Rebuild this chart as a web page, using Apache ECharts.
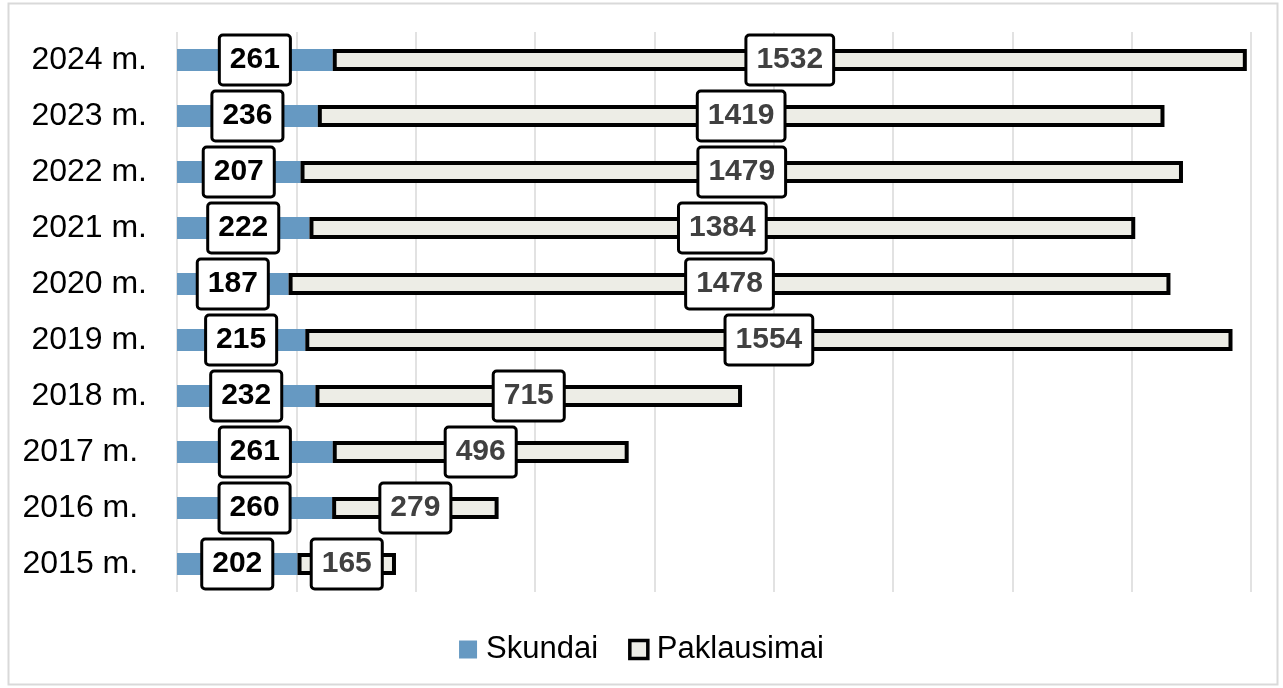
<!DOCTYPE html>
<html lang="lt">
	<head>
		<meta charset="UTF-8" />
		<title>Skundai ir paklausimai</title>
		<script src="https://cdn.jsdelivr.net/npm/echarts@6/dist/echarts.min.js"></script>
		<style>
			html, body { margin: 0; padding: 0; background: #fff; }
			#main { width: 1283px; height: 688px; }
		</style>
	</head>
	<body>
		<div id="main"></div>
		<script>
			// metai (apačioje 2015, viršuje 2024)
			var years = ['2015 m. ', '2016 m. ', '2017 m. ', '2018 m.', '2019 m.', '2020 m.', '2021 m.', '2022 m.', '2023 m.', '2024 m.'];
			var skundai = [202, 260, 261, 232, 215, 187, 222, 207, 236, 261];
			var paklausimai = [165, 279, 496, 715, 1554, 1478, 1384, 1479, 1419, 1532];

			var font = '"Liberation Sans", Arial, sans-serif';

			var myChart = echarts.init(document.getElementById('main'));

			// bendras etikečių stilius (balta dėžutė su juodu rėmeliu)
			function boxLabel(color) {
				return {
					show: true,
					position: 'inside',
					fontFamily: font,
					fontSize: 30,
					fontWeight: 'bold',
					lineHeight: 31,
					color: color,
					backgroundColor: '#fff',
					borderColor: '#000',
					borderWidth: 3,
					borderRadius: 2,
					padding: [8, 9, 8, 9]
				};
			}

			myChart.setOption({
				animation: false,
				graphic: [{
					type: 'rect',
					shape: { x: 8.5, y: 3.5, width: 1269, height: 681 },
					style: { fill: 'none', stroke: '#d9d9d9', lineWidth: 2 }
				}],
				legend: {
					bottom: 18,
					left: 'center',
					itemWidth: 18,
					itemHeight: 18,
					itemGap: 30,
					icon: 'rect',
					textStyle: { fontFamily: font, fontSize: 31, color: '#000', padding: [0, 0, 0, 4] },
					data: [
						'Skundai',
						{ name: 'Paklausimai', itemStyle: { borderWidth: 3.5, borderColor: '#000' } }
					]
				},
				grid: {
					left: 177,
					right: 32,
					top: 32,
					bottom: 96
				},
				xAxis: {
					type: 'value',
					min: 0,
					max: 1800,
					interval: 200,
					axisLabel: { show: false },
					axisLine: { show: false },
					axisTick: { show: false },
					splitLine: { lineStyle: { color: '#d9d9d9', width: 1.5 } }
				},
				yAxis: {
					type: 'category',
					data: years,
					axisLine: { show: false },
					axisTick: { show: false },
					axisLabel: {
						margin: 30,
						fontFamily: font,
						fontSize: 32,
						color: '#000'
					}
				},
				series: [
					{
						name: 'Skundai',
						type: 'bar',
						stack: 'viso',
						barWidth: 22,
						itemStyle: { color: '#6699c2' },
						label: boxLabel('#000'),
						data: skundai
					},
					{
						name: 'Paklausimai',
						type: 'bar',
						stack: 'viso',
						barWidth: 21,
						itemStyle: { color: '#edede6', borderColor: '#000', borderWidth: 4 },
						label: boxLabel('#404040'),
						data: paklausimai
					}
				]
			});
		</script>
	</body>
</html>
